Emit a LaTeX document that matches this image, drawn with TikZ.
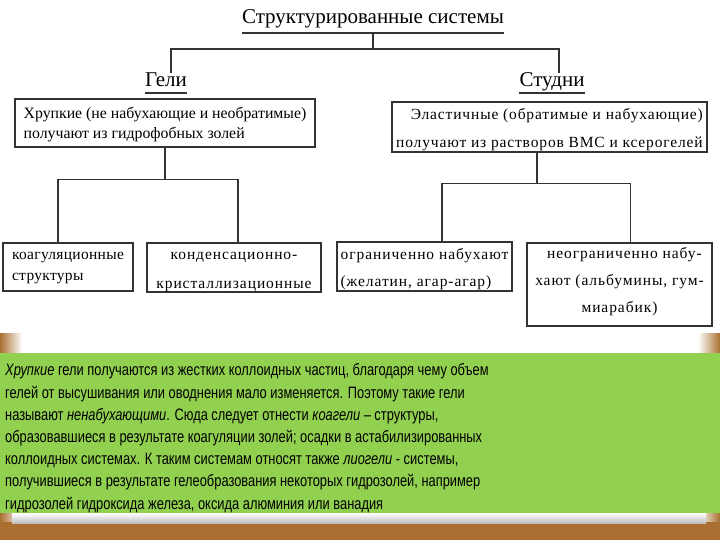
\documentclass[tikz,border=0pt]{standalone}
\usepackage{fontspec}
\setmainfont{Liberation Serif}
\newfontfamily\spaced[LetterSpace=6]{Liberation Serif}
\newfontfamily\spacedS[LetterSpace=5.5]{Liberation Serif}
\newfontfamily\spacedL[LetterSpace=2]{Liberation Serif}
\newfontfamily\narrow[FakeStretch=0.78]{Liberation Sans}
\definecolor{linec}{HTML}{333333}
\definecolor{leaf}{HTML}{92D050}
\definecolor{wood}{HTML}{A86F30}
\begin{document}
\begin{tikzpicture}[x=1pt,y=-1pt,
  line/.style={draw=linec, line width=1.3pt},
  box/.style={line, inner sep=0pt},
  bt/.style={inner sep=0pt}]
\useasboundingbox (0,0) rectangle (720,540);
\fill[white] (0,0) rectangle (720,540);
% frame
\shade[left color=wood, right color=white] (0,333) rectangle (22,540);
\shade[left color=white, right color=wood] (698,333) rectangle (720,540);
\fill[wood] (0,522) rectangle (720,540);
\shade[top color=white, bottom color=gray!50] (12,513) rectangle (706,523);
\fill[leaf] (0,353) rectangle (720,513);
% title and headings
\node[inner sep=0pt, anchor=base, font=\fontsize{21}{24}\selectfont] (T) at (373,24) {Структурированные системы};
\draw[line] ([yshift=-9pt]T.base west) -- ([yshift=-9pt]T.base east);
\node[inner sep=0pt, anchor=base, font=\fontsize{21}{24}\selectfont] (gel) at (166,87) {Гели};
\draw[line] ([yshift=-6pt]gel.base west) -- ([yshift=-6pt]gel.base east);
\node[inner sep=0pt, anchor=base, font=\fontsize{21}{24}\selectfont] (stud) at (552,87) {Студни};
\draw[line] ([yshift=-6pt]stud.base west) -- ([yshift=-6pt]stud.base east);
\draw[line] ([yshift=-9pt]T.base) -- ++(0,16) coordinate (tj) -| ([xshift=5pt]gel.north);
\draw[line] (tj) -| ([xshift=7pt]stud.north);
% boxes
\node[box, minimum width=300pt, minimum height=48pt] (G) at (165,123) {};
\node[bt, align=left, font=\fontsize{15.8}{20}\selectfont] (Gt) at ([yshift=-2pt]G.center)
  {Хрупкие (не набухающие и необратимые)\\получают из гидрофобных золей};
\node[box, minimum width=315pt, minimum height=50pt] (S) at (549.5,127) {};
\node[bt, align=right, font=\spacedS\fontsize{15.5}{28}\selectfont] (St) at ([yshift=-3pt]S.center)
  {Эластичные (обратимые и набухающие)\\получают из растворов ВМС и ксерогелей};
\node[box, minimum width=130pt, minimum height=48pt] (K1) at (68,267) {};
\node[bt, align=left, font=\spacedL\fontsize{15.5}{21}\selectfont] (K1t) at ([yshift=-1pt]K1.center)
  {коагуляционные\\структуры};
\node[box, minimum width=174pt, minimum height=49pt] (K2) at (234,267.5) {};
\node[bt, align=center, font=\spaced\fontsize{15.5}{29}\selectfont] (K2t) at ([yshift=-4pt]K2.center)
  {конденсационно-\\кристаллизационные};
\node[box, minimum width=175pt, minimum height=49pt] (K3) at (424.5,266.5) {};
\node[bt, align=left, font=\spaced\fontsize{15.5}{27}\selectfont] (K3t) at ([yshift=-3pt]K3.center)
  {ограниченно набухают\\(желатин, агар-агар)};
\node[box, minimum width=185pt, minimum height=83pt] (K4) at (619.5,284.5) {};
\node[bt, align=center, font=\spaced\fontsize{15.5}{27}\selectfont] (K4t) at ([yshift=3pt]K4.center)
  {\hspace*{10pt}неограниченно набу-\\хают (альбумины, гум-\\миарабик)};
% connectors
\draw[line] (G.south) -- ++(0,32) coordinate (gj) -| ([xshift=-10pt]K1.north);
\draw[line] (gj) -| ([xshift=4pt]K2.north);
\draw[line] ([xshift=-12.5pt]S.south) -- ++(0,31) coordinate (sj) -| ([xshift=17.5pt]K3.north);
\draw[line] (sj) -| ([xshift=11pt]K4.north);
% paragraph
\node[anchor=north west, inner sep=0pt, align=left, text=black,
  font=\narrow\fontsize{16.5}{22.2}\selectfont] (P) at (5,363.5)
  {\textit{Хрупкие} гели получаются из жестких коллоидных частиц, благодаря чему объем\\
   гелей от высушивания или оводнения мало изменяется. Поэтому такие гели\\
   называют \textit{ненабухающими}. Сюда следует отнести \textit{коагели} – структуры,\\
   образовавшиеся в результате коагуляции золей; осадки в астабилизированных\\
   коллоидных системах. К таким системам относят также \textit{лиогели} - системы,\\
   получившиеся в результате гелеобразования некоторых гидрозолей, например\\
   гидрозолей гидроксида железа, оксида алюминия или ванадия};
\end{tikzpicture}
\end{document}
